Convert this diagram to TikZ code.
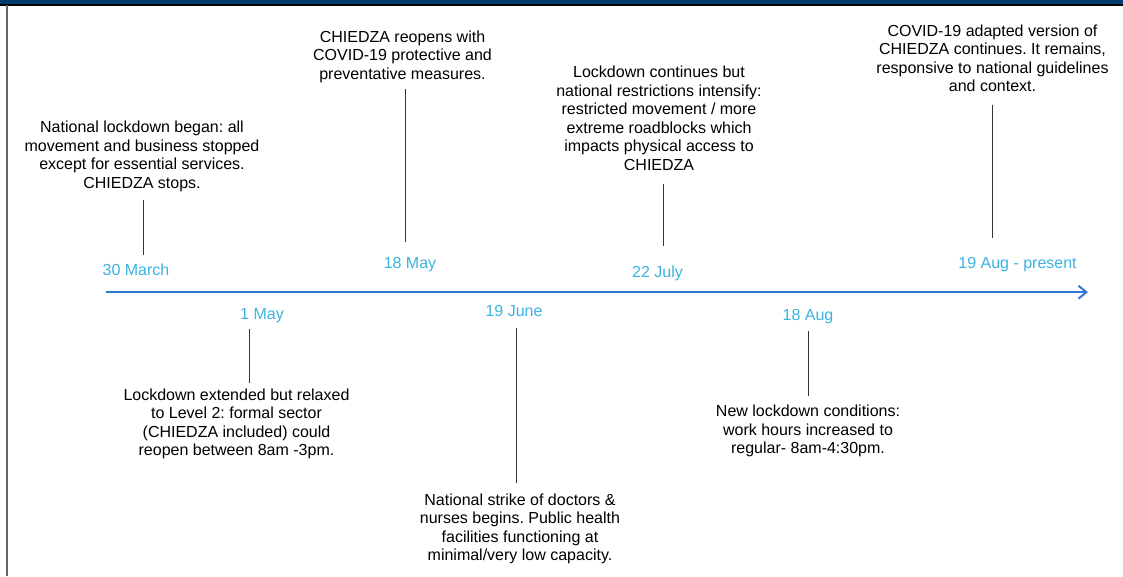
\documentclass[tikz,border=0pt]{standalone}
\usepackage{fontspec}
\setmainfont{Liberation Sans}
\usepackage{xcolor}
\usetikzlibrary{positioning,arrows.meta}
\frenchspacing

\definecolor{datecol}{RGB}{59,178,224}
\definecolor{axiscol}{RGB}{46,120,214}
\definecolor{barcol}{RGB}{0,58,112}

\begin{document}
\begin{tikzpicture}[x=1pt, y=1pt,
    evt/.style={align=center, inner sep=0pt, font=\fontsize{16}{18.5}\selectfont},
    date/.style={inner sep=0pt, anchor=base, text=datecol, font=\fontsize{16}{18.5}\selectfont},
    tick/.style={draw=black!80, line width=0.9pt}
  ]
\useasboundingbox (0,0) rectangle (1123,576);

% Frame: top bar and left edge
\fill[barcol] (0,572) rectangle (1123,576);
\draw[black, line width=1.7pt] (0,571.2) -- (1123,571.2);
\draw[black!60, line width=2pt] (7,0) -- (7,570.5);

% Time axis
\coordinate (start) at (106,283.8);
\coordinate (end) at (1088,283.8);
\draw[axiscol, line width=2pt, -{Straight Barb[length=8pt, width=13pt]}] (start) -- (end);

% Events above the axis
\node[date] (mar) at (136,300.5) {30 March};
\node[evt, anchor=north] (mar-txt) at (142,455) {National lockdown began: all\\movement and business stopped\\except for essential services.\\CHIEDZA stops.};
\draw[tick, shorten <=8.6pt, shorten >=8.5pt] ([xshift=1pt]mar-txt.south) -- ([xshift=1pt]mar-txt.south |- mar.north);

\node[date] (may18) at (410,307.5) {18 May};
\node[evt, anchor=north] (may18-txt) at (402.5,545.5) {CHIEDZA reopens with\\COVID-19 protective and\\preventative measures.};
\draw[tick, shorten <=6pt, shorten >=15pt] ([xshift=2.5pt]may18-txt.south) -- ([xshift=2.5pt]may18-txt.south |- may18.north);

\node[date] (jul22) at (657.5,298.7) {22 July};
\node[evt, anchor=north] (jul22-txt) at (659,510) {Lockdown continues but\\national restrictions intensify:\\restricted movement / more\\extreme roadblocks which\\impacts physical access to\\CHIEDZA};
\draw[tick, shorten <=13pt, shorten >=20pt] ([xshift=4pt]jul22-txt.south) -- ([xshift=4pt]jul22-txt.south |- jul22.north);

\node[date] (aug19) at (1017.5,307.7) {19 Aug - present};
\node[evt, anchor=north] (aug19-txt) at (992.5,551.5) {COVID-19 adapted version of\\CHIEDZA continues. It remains,\\responsive to national guidelines\\and context.};
\draw[tick, shorten <=12.5pt, shorten >=19pt] ([xshift=-0.5pt]aug19-txt.south) -- ([xshift=-0.5pt]aug19-txt.south |- aug19.north);

% Events below the axis
\node[date] (may1) at (262,256) {1 May};
\node[evt, anchor=north] (may1-txt) at (236.5,187.5) {Lockdown extended but relaxed\\to Level 2: formal sector\\(CHIEDZA included) could\\reopen between 8am -3pm.};
\draw[tick, shorten <=5.5pt, shorten >=5.6pt] ([xshift=12.5pt]may1-txt.north) -- ([xshift=12.5pt]may1-txt.north |- may1.south);

\node[date] (jun19) at (514,259.3) {19 June};
\node[evt, anchor=north] (jun19-txt) at (520,82.5) {National strike of doctors \&\\nurses begins. Public health\\facilities functioning at\\minimal/very low capacity.};
\draw[tick, shorten <=10.5pt, shorten >=10.5pt] ([xshift=-4pt]jun19-txt.north) -- ([xshift=-4pt]jun19-txt.north |- jun19.south);

\node[date] (aug18) at (808,255.5) {18 Aug};
\node[evt, anchor=north] (aug18-txt) at (808,171) {New lockdown conditions:\\work hours increased to\\regular- 8am-4:30pm.};
\draw[tick, shorten <=9pt, shorten >=6.6pt] (aug18-txt.north) -- (aug18-txt.north |- aug18.south);

\end{tikzpicture}
\end{document}
